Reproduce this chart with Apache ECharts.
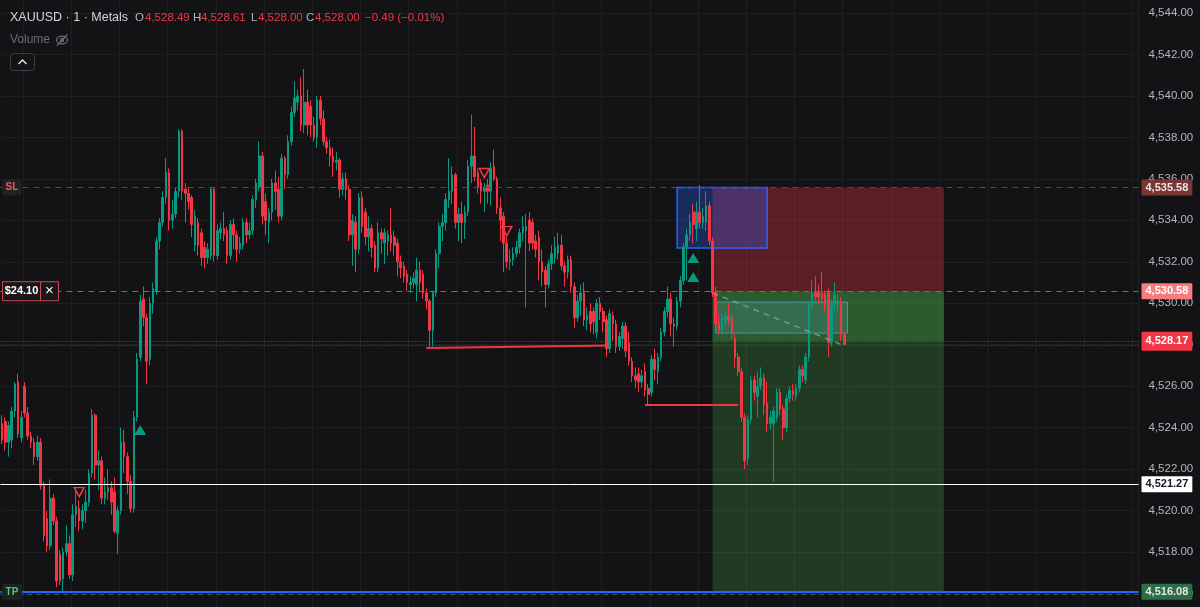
<!DOCTYPE html>
<html><head><meta charset="utf-8">
<style>html,body{margin:0;padding:0;background:#131315;}#c{width:1200px;height:607px;}</style>
<script src="https://cdn.jsdelivr.net/npm/echarts/dist/echarts.min.js"></script>
</head><body><div id="c"></div><script>
// ---- data (1-minute XAUUSD candles) ----
const opens = [4524.2,4524.3,4523.3,4523.4,4524.8,4526.2,4523.5,4526.0,4524.7,4523.6,4523.3,4522.6,4523.3,4521.2,4519.6,4518.3,4520.6,4519.5,4517.9,4516.7,4518.0,4518.4,4516.9,4519.8,4520.1,4519.5,4520.0,4520.4,4521.8,4524.6,4522.2,4522.4,4520.6,4520.9,4521.1,4520.9,4518.9,4520.0,4523.3,4522.6,4521.4,4520.1,4524.5,4527.4,4530.2,4529.3,4527.3,4530.0,4530.6,4533.0,4533.9,4535.1,4536.3,4534.0,4534.3,4535.4,4538.3,4535.5,4535.3,4535.1,4532.8,4533.9,4533.4,4532.7,4532.2,4532.3,4535.5,4532.3,4533.4,4533.6,4533.5,4532.3,4533.8,4533.3,4532.6,4532.8,4533.9,4533.3,4533.5,4535.0,4535.6,4537.1,4534.9,4533.9,4534.4,4535.8,4535.5,4534.2,4537.0,4536.2,4537.8,4539.2,4539.7,4540.0,4538.6,4539.7,4539.5,4538.6,4538.0,4539.8,4538.9,4537.8,4537.5,4537.1,4536.8,4536.9,4535.5,4536.0,4535.5,4533.3,4533.9,4532.6,4535.1,4534.4,4533.2,4533.6,4532.8,4531.7,4533.4,4532.9,4533.0,4533.3,4533.2,4532.9,4532.0,4531.8,4531.4,4530.9,4531.0,4530.9,4531.6,4531.4,4530.5,4530.1,4528.7,4530.5,4532.4,4533.7,4533.9,4535.0,4535.4,4536.2,4533.9,4534.3,4533.9,4534.4,4536.6,4537.1,4536.3,4535.8,4535.4,4535.7,4535.4,4536.6,4536.0,4534.6,4534.2,4532.9,4532.0,4532.1,4532.4,4532.7,4533.4,4533.5,4534.0,4533.9,4533.0,4533.2,4532.0,4531.6,4530.9,4531.9,4532.2,4532.4,4532.8,4531.8,4531.5,4532.1,4530.8,4529.3,4530.1,4530.5,4529.2,4529.6,4529.6,4528.6,4530.0,4529.6,4529.2,4527.8,4529.4,4529.0,4527.9,4528.3,4528.9,4528.1,4527.2,4526.5,4526.6,4526.2,4526.7,4525.9,4525.7,4527.3,4526.7,4527.4,4528.6,4529.6,4530.2,4529.0,4528.9,4530.1,4531.1,4532.7,4533.3,4534.4,4533.6,4534.4,4533.9,4533.9,4534.7,4533.0,4530.5,4529.1,4528.7,4529.1,4529.4,4529.3,4528.3,4527.4,4526.7,4524.5,4522.5,4524.4,4526.3,4525.5,4526.0,4526.4,4525.2,4524.2,4524.2,4524.5,4525.7,4524.9,4524.0,4525.4,4525.8,4525.5,4525.9,4526.8,4526.3,4527.4,4529.9,4530.5,4530.5,4530.5,4530.4,4530.5,4528.1,4529.9,4529.9,4530.0,4528.49];
const closes = [4523.4,4523.3,4524.1,4524.8,4526.1,4523.7,4524.5,4524.7,4523.6,4523.3,4522.6,4523.3,4521.2,4518.8,4518.3,4520.6,4519.5,4516.6,4516.6,4518.0,4518.4,4516.9,4519.8,4520.2,4519.5,4520.0,4520.4,4521.8,4524.6,4522.2,4522.4,4520.6,4520.9,4521.1,4520.4,4519.0,4520.0,4523.3,4522.6,4521.4,4520.1,4524.5,4527.3,4530.1,4529.3,4527.2,4530.0,4530.7,4533.0,4533.9,4535.1,4536.3,4534.0,4534.3,4535.4,4538.3,4535.4,4535.3,4534.9,4533.8,4534.2,4532.8,4532.2,4532.2,4532.6,4535.5,4532.3,4533.5,4533.6,4533.3,4532.3,4533.8,4533.3,4532.6,4532.9,4533.9,4533.3,4533.5,4535.0,4535.8,4537.1,4534.2,4534.0,4534.4,4535.8,4535.4,4534.2,4537.0,4536.2,4537.8,4539.2,4539.9,4540.0,4538.6,4539.7,4538.6,4538.6,4538.0,4539.8,4538.9,4537.8,4537.5,4537.1,4536.8,4536.9,4535.5,4536.0,4535.5,4533.3,4534.0,4532.6,4535.1,4533.7,4533.2,4533.6,4532.7,4531.7,4533.4,4533.1,4533.4,4533.3,4532.9,4532.8,4532.0,4531.7,4531.3,4531.0,4531.0,4531.2,4531.6,4531.0,4530.5,4530.1,4528.7,4530.5,4532.4,4533.7,4533.9,4535.0,4535.4,4536.2,4533.9,4534.3,4533.9,4534.4,4536.6,4537.1,4536.1,4535.6,4535.4,4535.6,4535.4,4536.5,4536.0,4534.6,4534.0,4532.9,4532.0,4532.1,4532.4,4532.7,4533.4,4533.7,4533.7,4532.9,4532.9,4532.6,4532.0,4531.5,4530.9,4531.9,4532.4,4532.7,4532.8,4531.8,4531.5,4532.1,4530.8,4529.3,4530.1,4530.5,4529.2,4529.4,4529.0,4529.1,4530.0,4529.6,4529.1,4527.8,4529.5,4529.0,4527.9,4528.4,4528.9,4527.7,4527.2,4526.5,4526.3,4526.2,4526.5,4525.8,4525.6,4527.3,4526.8,4527.4,4528.6,4529.6,4530.2,4529.0,4528.9,4530.1,4531.1,4532.7,4533.3,4533.9,4533.8,4534.4,4533.9,4534.2,4534.7,4533.0,4530.5,4529.0,4528.7,4529.3,4529.4,4529.2,4528.6,4527.4,4526.7,4524.5,4522.4,4524.4,4526.3,4525.7,4526.0,4526.4,4525.1,4524.2,4524.5,4524.8,4525.7,4524.9,4524.0,4525.4,4525.8,4525.6,4525.9,4526.8,4526.5,4527.4,4529.9,4530.5,4530.3,4530.3,4530.2,4529.9,4528.1,4529.9,4530.4,4530.1,4528.5,4528.00];
const lows = [4523.2,4522.9,4522.6,4523.0,4524.5,4523.5,4523.3,4524.5,4523.4,4523.0,4522.2,4522.4,4521.0,4518.5,4518.0,4518.1,4519.3,4516.3,4516.4,4516.1,4517.8,4516.7,4516.6,4519.2,4519.0,4519.1,4519.4,4520.2,4521.6,4521.5,4521.0,4520.3,4520.3,4520.5,4519.8,4518.9,4517.9,4519.8,4521.8,4520.8,4519.9,4519.9,4524.3,4527.2,4528.9,4526.1,4527.0,4529.5,4530.4,4532.6,4533.7,4534.8,4533.5,4533.6,4534.1,4535.1,4535.0,4533.9,4534.5,4533.2,4532.5,4532.3,4531.8,4531.7,4531.9,4532.1,4532.0,4532.1,4533.1,4533.0,4531.9,4532.1,4532.6,4532.0,4532.4,4532.6,4532.9,4533.1,4533.3,4534.6,4535.4,4533.8,4533.3,4532.9,4534.0,4534.5,4533.9,4534.0,4535.5,4536.0,4537.6,4539.0,4539.3,4538.3,4538.2,4538.1,4538.0,4537.8,4537.5,4538.6,4537.6,4537.2,4536.6,4536.1,4536.4,4535.1,4535.2,4535.0,4533.0,4531.8,4531.5,4532.4,4533.4,4532.8,4532.5,4532.2,4531.5,4531.5,4532.4,4531.9,4532.3,4532.5,4532.3,4531.3,4531.2,4531.0,4530.6,4530.5,4530.7,4530.1,4530.6,4530.2,4529.7,4527.9,4527.9,4530.3,4531.7,4533.0,4533.5,4534.6,4534.8,4533.6,4533.0,4532.9,4533.1,4534.2,4535.8,4535.9,4535.3,4534.8,4534.4,4534.8,4534.7,4535.9,4534.3,4533.0,4531.5,4531.7,4531.6,4531.8,4532.2,4532.4,4533.0,4529.8,4532.5,4532.6,4532.2,4531.1,4530.8,4529.8,4530.7,4531.6,4531.9,4532.1,4531.6,4530.8,4531.2,4530.5,4528.8,4529.1,4529.4,4528.9,4528.7,4528.6,4528.5,4528.3,4529.2,4528.6,4527.4,4527.6,4528.2,4527.6,4527.7,4527.8,4527.4,4527.0,4526.2,4525.9,4525.7,4525.9,4525.5,4525.1,4525.5,4526.3,4526.1,4527.2,4528.4,4529.3,4528.4,4527.9,4528.7,4529.8,4530.9,4531.1,4533.0,4532.9,4533.0,4533.6,4533.6,4533.5,4532.8,4530.3,4528.9,4528.5,4528.5,4528.9,4528.9,4528.3,4526.9,4526.5,4524.3,4522.0,4522.2,4524.2,4525.3,4524.5,4525.8,4524.6,4523.8,4523.9,4521.4,4524.3,4524.6,4523.4,4523.8,4525.2,4525.3,4525.3,4525.7,4526.2,4526.1,4527.2,4529.7,4530.0,4530.0,4529.9,4529.6,4527.4,4527.9,4529.6,4529.6,4528.2,4528.00];
const highs = [4524.6,4524.5,4524.3,4525.0,4526.2,4526.6,4524.8,4526.2,4525.0,4523.8,4523.5,4523.6,4523.5,4521.4,4520.0,4521.5,4520.8,4519.7,4518.1,4518.2,4519.3,4518.8,4520.3,4521.0,4520.5,4520.3,4521.0,4522.0,4524.9,4524.7,4522.9,4522.6,4521.6,4522.0,4521.4,4521.6,4520.2,4524.0,4523.9,4522.8,4521.7,4524.8,4527.6,4530.4,4530.8,4529.5,4530.3,4531.0,4533.2,4534.1,4535.4,4537.0,4536.5,4535.0,4535.6,4538.4,4538.4,4535.8,4535.6,4535.2,4534.5,4534.1,4533.6,4533.0,4532.9,4535.6,4535.6,4533.8,4533.9,4534.4,4533.7,4534.0,4534.1,4533.5,4533.2,4534.1,4534.1,4533.9,4535.2,4536.0,4537.8,4537.3,4535.3,4534.6,4536.0,4536.4,4536.1,4537.2,4537.1,4538.1,4539.5,4540.7,4540.3,4540.9,4541.3,4540.3,4539.8,4539.0,4540.0,4540.0,4539.3,4538.0,4537.9,4537.5,4537.3,4537.0,4536.3,4536.3,4535.7,4534.3,4534.2,4535.3,4535.4,4534.6,4534.2,4533.8,4533.0,4533.9,4533.6,4533.6,4533.5,4534.6,4533.5,4533.1,4532.3,4532.0,4531.6,4531.3,4531.5,4532.2,4532.0,4531.6,4530.7,4530.2,4530.6,4532.6,4533.9,4534.3,4535.3,4537.0,4536.6,4536.3,4534.6,4534.9,4534.7,4536.9,4539.1,4538.5,4536.5,4536.0,4535.8,4536.0,4536.8,4537.4,4536.1,4535.1,4534.4,4533.2,4532.6,4532.7,4533.0,4533.6,4534.2,4534.3,4534.4,4534.1,4533.3,4533.5,4532.6,4531.8,4532.1,4532.8,4533.2,4533.4,4533.3,4532.0,4532.3,4532.3,4531.0,4530.4,4530.9,4531.0,4529.8,4530.0,4529.8,4530.2,4530.3,4529.8,4529.4,4529.7,4529.6,4529.2,4528.6,4529.1,4529.1,4528.6,4527.4,4526.9,4526.9,4526.8,4527.1,4526.1,4527.5,4527.8,4527.6,4528.8,4529.8,4530.8,4530.5,4529.3,4530.3,4531.3,4532.9,4533.6,4534.3,4534.8,4534.9,4535.7,4534.6,4535.4,4534.9,4533.2,4530.8,4529.5,4529.5,4529.6,4530.0,4529.5,4528.5,4527.6,4526.9,4524.7,4524.6,4526.5,4526.5,4526.7,4526.9,4526.6,4526.2,4524.8,4525.0,4525.9,4525.9,4525.1,4525.6,4526.0,4526.1,4526.1,4527.0,4527.0,4527.6,4530.1,4531.1,4531.3,4530.9,4531.5,4530.6,4530.7,4530.2,4531.0,4530.4,4530.3,4528.61];
const slotCount = 354;                 // bars + empty space to the right
const priceMin = 4514, priceMax = 4546, priceStep = 2;
const slPrice = 4535.58, entryPrice = 4530.58, lastPrice = 4528.17, lastClose = 4527.98, markPrice = 4521.27, tpPrice = 4516.08;
const header = {sym:'XAUUSD · 1 · Metals', o:'4,528.49', h:'4,528.61', l:'4,528.00', c:'4,528.00', chg:'−0.49 (−0.01%)'};
const pnlText = '$24.10';
// drawings: [barIndex, price]
const posTool = {from:221, to:293};
const blueBox = {from:210, to:238, top:4535.58, bottom:4532.66};
const fvgBox = {from:222, to:263, top:4530.06, bottom:4528.56};
const supportA = [[132,4527.84],[189,4527.96]];
const supportB = [[200,4525.12],[229,4525.12]];
const diag = [[221,4530.5],[262,4527.95]];
const sellMarks = [[24,4520.89],[150,4536.28],[157,4533.48]];
const buyMarks = [[43,4523.88],[215,4532.18],[215,4531.26]];

const cats = []; for (let i = 0; i < slotCount; i++) cats.push(String(i));
const candles = opens.map((o, i) => [o, closes[i], lows[i], highs[i]]);
const fmt = v => v.toLocaleString('en-US', {minimumFractionDigits: 2, maximumFractionDigits: 2});
const FONT = '"Liberation Sans", Arial, sans-serif';
const UP = '#089981', DOWN = '#f23645';

function badge(bg, fg) {
  return {show: true, position: 'end', distance: 3, backgroundColor: bg, color: fg,
    padding: [3, 4, 2, 4], borderRadius: 1, fontSize: 11, fontWeight: 'bold', fontFamily: FONT};
}
const chart = echarts.init(document.getElementById('c'), null, {renderer: 'canvas'});
const option = {
  backgroundColor: '#131315',
  animation: false,
  grid: {left: 0.4, top: -28.46, width: 1138.1, height: 663.4, containLabel: false, outerBoundsMode: 'none'},
  xAxis: {type: 'category', data: cats, boundaryGap: true,
    axisLine: {show: false}, axisTick: {show: false}, axisLabel: {show: false},
    splitLine: {show: true, interval: (i) => i % 15 === 7, lineStyle: {color: '#1e1e21', width: 1}}},
  yAxis: {type: 'value', position: 'right', min: priceMin, max: priceMax, interval: priceStep,
    axisLine: {show: false}, axisTick: {show: false},
    axisLabel: {margin: 10, color: '#b2b5be', fontSize: 11.5, fontFamily: FONT, formatter: v => fmt(v)},
    splitLine: {lineStyle: {color: '#1e1e21', width: 1}}},
  series: [
    {type: 'line', data: [], z: 1, silent: true,
      markArea: {silent: true, data: [
        [{xAxis: cats[posTool.from], yAxis: slPrice, itemStyle: {color: 'rgba(242,54,69,0.33)'}}, {xAxis: cats[posTool.to], yAxis: entryPrice}],
        [{xAxis: cats[posTool.from], yAxis: entryPrice, itemStyle: {color: 'rgba(76,175,80,0.255)'}}, {xAxis: cats[posTool.to], yAxis: tpPrice}],
        [{xAxis: cats[posTool.from], yAxis: entryPrice, itemStyle: {color: 'rgba(76,175,80,0.28)'}}, {xAxis: cats[posTool.to], yAxis: lastPrice}]
      ]}},
    {type: 'candlestick', data: candles, z: 2, barWidth: 2.1,
      itemStyle: {color: UP, color0: DOWN, borderColor: UP, borderColor0: DOWN, borderWidth: 1}},
    {type: 'line', data: [], z: 3, silent: true,
      markArea: {silent: true, data: [
        [{xAxis: cats[blueBox.from], yAxis: blueBox.top, itemStyle: {color: 'rgba(41,98,255,0.3)', borderColor: '#2962ff', borderWidth: 1.5}}, {xAxis: cats[blueBox.to], yAxis: blueBox.bottom}],
        [{xAxis: cats[fvgBox.from], yAxis: fvgBox.top, itemStyle: {color: 'rgba(80,170,190,0.22)', borderColor: 'rgba(70,160,190,0.85)', borderWidth: 1}}, {xAxis: cats[fvgBox.to], yAxis: fvgBox.bottom}]
      ]},
      markLine: {silent: true, symbol: ['none', 'none'], data: [
        {yAxis: slPrice, lineStyle: {color: '#7d3a3e', type: [6, 5], width: 1}, label: Object.assign(badge('#7b3535', '#e6e6e6'), {formatter: fmt(slPrice)})},
        {yAxis: entryPrice, lineStyle: {color: '#a9565c', type: [6, 5], width: 1}, label: Object.assign(badge('#f77c80', '#ffffff'), {formatter: fmt(entryPrice)})},
        {yAxis: lastClose, lineStyle: {color: '#a8323d', type: [1, 2], width: 1}, label: {show: false}},
        {yAxis: lastPrice, lineStyle: {color: '#c8303d', type: [1, 2], width: 1}, label: Object.assign(badge('#f23645', '#ffffff'), {formatter: fmt(lastPrice), padding: [4, 4, 4, 4]})},
        {yAxis: markPrice, lineStyle: {color: '#ffffff', type: 'solid', width: 1}, label: Object.assign(badge('#ffffff', '#131722'), {formatter: fmt(markPrice)})},
        {yAxis: tpPrice - 0.12, lineStyle: {color: 'rgba(70,130,90,0.7)', type: [5, 4], width: 1}, label: {show: false}},
        {yAxis: tpPrice, lineStyle: {color: '#2962ff', type: 'solid', width: 2}, label: Object.assign(badge('#2d6e46', '#e6e6e6'), {formatter: fmt(tpPrice)})},
        [{coord: [cats[supportA[0][0]], supportA[0][1]]}, {coord: [cats[supportA[1][0]], supportA[1][1]], lineStyle: {color: '#f23645', width: 2, type: 'solid'}, label: {show: false}}],
        [{coord: [cats[supportB[0][0]], supportB[0][1]]}, {coord: [cats[supportB[1][0]], supportB[1][1]], lineStyle: {color: '#f23645', width: 2, type: 'solid'}, label: {show: false}}],
        [{coord: [cats[diag[0][0]], diag[0][1]]}, {coord: [cats[diag[1][0]], diag[1][1]], lineStyle: {color: 'rgba(175,175,175,0.6)', width: 1.5, type: [6, 5]}, label: {show: false}}]
      ]},
      markPoint: {silent: true, label: {show: false}, data:
        sellMarks.map(m => ({coord: [cats[m[0]], m[1]], symbol: 'path://M0,0 L10,0 L5,9 Z', symbolSize: [10, 9],
          itemStyle: {color: 'rgba(0,0,0,0)', borderColor: '#f23645', borderWidth: 1.5}})).concat(
        buyMarks.map(m => ({coord: [cats[m[0]], m[1]], symbol: 'triangle', symbolSize: [12, 10], itemStyle: {color: '#089981'}})))
      }}
  ]
};
chart.setOption(option);

const yPx = v => chart.convertToPixel({yAxisIndex: 0}, v);
const ySL = yPx(slPrice), yEn = yPx(entryPrice), yTP = yPx(tpPrice);
const txt = (x, y, text, fill, size, weight, align) => ({type: 'text', z: 100, x: x, y: y,
  style: {text: text, fill: fill, fontSize: size, fontWeight: weight || 'normal', fontFamily: FONT, align: align || 'left', verticalAlign: 'middle'}});
chart.setOption({graphic: [
  txt(10, 18, header.sym, '#d1d4dc', 12.5),
  txt(135, 18, 'O', '#b2b5be', 11.5), txt(145, 18, header.o, '#f23645', 11.5),
  txt(193, 18, 'H', '#b2b5be', 11.5), txt(201, 18, header.h, '#f23645', 11.5),
  txt(251, 18, 'L', '#b2b5be', 11.5), txt(258, 18, header.l, '#f23645', 11.5),
  txt(306, 18, 'C', '#b2b5be', 11.5), txt(315, 18, header.c, '#f23645', 11.5),
  txt(365, 18, header.chg, '#f23645', 11.5),
  txt(10, 40, 'Volume', '#6a6d78', 12),
  {type: 'ellipse', z: 100, shape: {cx: 62, cy: 40, rx: 5.5, ry: 3.8}, style: {fill: 'none', stroke: '#6a6d78', lineWidth: 1.2}},
  {type: 'circle', z: 100, shape: {cx: 62, cy: 40, r: 1.6}, style: {fill: 'none', stroke: '#6a6d78', lineWidth: 1.2}},
  {type: 'line', z: 100, shape: {x1: 57, y1: 45.5, x2: 67.5, y2: 34.5}, style: {stroke: '#6a6d78', lineWidth: 1.2}},
  {type: 'rect', z: 100, shape: {x: 10.5, y: 53.5, width: 24, height: 17, r: 3}, style: {fill: '#131315', stroke: '#3d3d44', lineWidth: 1}},
  {type: 'polyline', z: 101, shape: {points: [[18.5, 64], [22.5, 60], [26.5, 64]]}, style: {fill: 'none', stroke: '#e0e0e0', lineWidth: 1.5}},
  {type: 'rect', z: 100, shape: {x: 2.5, y: ySL - 8, width: 19, height: 16, r: 2}, style: {fill: '#222226'}},
  txt(12, ySL, 'SL', '#f7525f', 10, 'bold', 'center'),
  {type: 'rect', z: 100, shape: {x: 2.5, y: yEn - 9.5, width: 38, height: 19}, style: {fill: '#18181b', stroke: '#c9474f', lineWidth: 1}},
  {type: 'rect', z: 100, shape: {x: 40.5, y: yEn - 9.5, width: 18, height: 19}, style: {fill: '#18181b', stroke: '#c9474f', lineWidth: 1}},
  txt(21.5, yEn, pnlText, '#ffffff', 11, 'bold', 'center'),
  txt(49.5, yEn, '×', '#ffffff', 15, 'normal', 'center'),
  {type: 'rect', z: 100, shape: {x: 2, y: yTP - 8, width: 20, height: 16, r: 2}, style: {fill: '#1c2420'}},
  txt(12, yTP, 'TP', '#5fbf7f', 10, 'bold', 'center')
]});
</script></body></html>
